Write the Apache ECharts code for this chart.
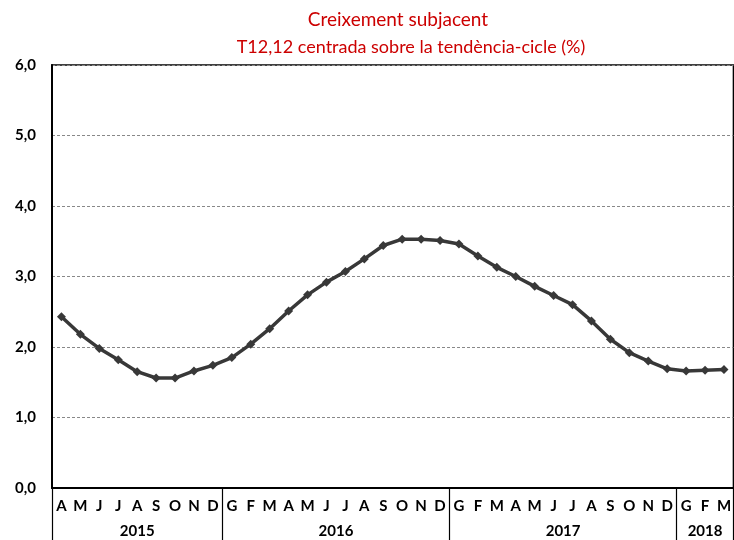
<!DOCTYPE html>
<html>
<head>
<meta charset="utf-8">
<script src="https://cdn.jsdelivr.net/npm/echarts@6/dist/echarts.min.js"></script>
<style>html,body{margin:0;padding:0;background:#fff;}#c{width:734px;height:540px;}</style>
</head>
<body>
<div id="c"></div>
<script>
var months = ['A','M','J','J','A','S','O','N','D',
  'G','F','M','A','M','J','J','A','S','O','N','D',
  'G','F','M','A','M','J','J','A','S','O','N','D',
  'G','F','M'];
var years = ['2015','2016','2017','2018'];
var yearStart = [0, 9, 21, 33];
var values = [2.43,2.18,1.98,1.82,1.65,1.56,1.56,1.66,1.74,
  1.85,2.04,2.26,2.51,2.74,2.92,3.07,3.25,3.44,3.53,3.53,3.51,
  3.46,3.29,3.13,3.00,2.86,2.73,2.60,2.37,2.11,1.92,1.80,1.69,
  1.66,1.67,1.68];
var yTicks = [0,1,2,3,4,5,6];

var yearLabels = months.map(function(){return '';});
years.forEach(function(y, k){
  var s = yearStart[k];
  var e = (k + 1 < yearStart.length) ? yearStart[k+1] : months.length;
  var mid = (s + e - 1) / 2;
  var idx = Math.floor(mid);
  yearLabels[idx] = (mid !== idx) ? '{h|' + y + '}' : '{n|' + y + '}';
});

var font = 'Lato, "Open Sans", sans-serif';
var lblSize = 15;
var chart = echarts.init(document.getElementById('c'), null, {renderer:'canvas'});
chart.setOption({
  animation: false,
  backgroundColor: '#fff',
  graphic: [
    {type:'text', x: 398, y: 20, style:{text:'Creixement subjacent', fill:'#cc0000', font:'19px ' + font, align:'center', verticalAlign:'middle'}},
    {type:'text', x: 411, y: 47, style:{text:'T12,12 centrada sobre la tendència-cicle (%)', fill:'#cc0000', font:'18px ' + font, align:'center', verticalAlign:'middle'}}
  ],
  grid: {left: 52, top: 65, right: -3.5, bottom: 52, show: true, borderColor: '#000', borderWidth: 1.5, backgroundColor: 'transparent'},
  xAxis: [
    {type:'category', data: months, boundaryGap: true, position:'bottom',
     axisLine:{show:true, lineStyle:{color:'#000', width:2}},
     axisTick:{show:false},
     axisLabel:{interval:0, color:'#000', fontWeight:'bold', fontSize:lblSize, fontFamily:font, margin:11}},
    {type:'category', data: yearLabels, boundaryGap: true, position:'bottom',
     axisLine:{show:false},
     axisTick:{show:true, length:54, lineStyle:{color:'#000', width:1.2},
       interval:function(i){return yearStart.indexOf(i) >= 0;}},
     axisLabel:{interval:0, margin:36, formatter:function(v){return v;},
       rich:{
         n:{color:'#000', fontWeight:'bold', fontSize:lblSize, fontFamily:font},
         h:{color:'#000', fontWeight:'bold', fontSize:lblSize, fontFamily:font, padding:[0,0,0,19]}
       }}}
  ],
  yAxis: {type:'value', min: yTicks[0], max: yTicks[yTicks.length-1], interval: 1,
    axisLine:{show:true, lineStyle:{color:'#000', width:2}},
    axisTick:{show:false},
    splitLine:{show:true, lineStyle:{color:'#888', type:[3,2], width:1}},
    axisLabel:{color:'#000', fontWeight:'bold', fontSize:lblSize, fontFamily:font, margin:16,
      formatter:function(v){return v.toFixed(1).replace('.', ',');}}},
  series: [{
    type:'line', data: values, xAxisIndex:0,
    lineStyle:{color:'#383838', width:3.5},
    itemStyle:{color:'#383838'},
    symbol:'diamond', symbolSize:9, showSymbol:true
  }]
});
</script>
</body>
</html>
